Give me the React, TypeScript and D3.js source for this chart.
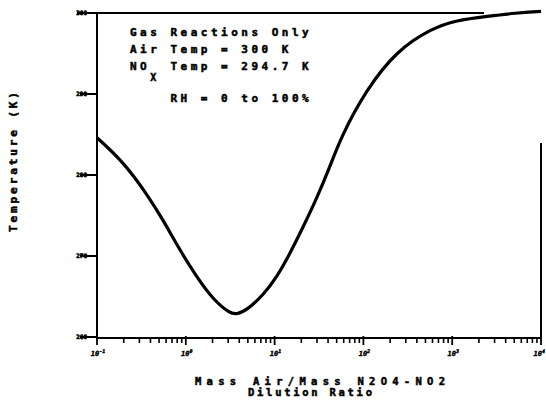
import React from "react";
import * as d3 from "d3";

// dilution ratio (mass air / mass N2O4-NO2) vs mixture temperature
const dilution = [0.1, 0.191, 0.363, 0.558, 0.861, 1.327, 2.04, 3.15, 3.74, 4.85, 7.47, 10.6, 14.9, 21.0, 29.8, 41.9, 56, 107, 239, 590, 1100, 2520, 5220, 10000];
const temperature = [284.6, 281.8, 277.7, 274.4, 270.7, 267.4, 264.6, 262.9, 262.8, 263.3, 265.2, 267.4, 270.3, 273.6, 277.1, 281.0, 284.7, 290.5, 295.4, 298.1, 299.1, 299.6, 300.0, 300.2];

const yTicks = [260, 270, 280, 290, 300];
const xDecades = [-1, 0, 1, 2, 3, 4];

const notes = ["Gas Reactions Only", "Air Temp = 300 K"];

const W = 546;
const H = 403;
const mono = "'DejaVu Sans Mono', monospace";

function App() {
  const x = d3.scaleLog().domain([0.1, 1e4]).range([97, 541]);
  const y = d3.scaleLinear().domain([260, 300]).range([337, 13]);

  const pts: [number, number][] = dilution.map((d, i) => [d, temperature[i]]);
  const line = d3
    .line<[number, number]>()
    .x((d) => x(d[0]))
    .y((d) => y(d[1]))
    .curve(d3.curveBasis);

  // minor ticks 2..9 in every decade
  const minor: number[] = [];
  xDecades.slice(0, -1).forEach((e) => {
    for (let k = 2; k <= 9; k++) minor.push(k * Math.pow(10, e));
  });

  const x0 = x.range()[0];
  const x1 = x.range()[1];
  const yb = y.range()[0] + 1;
  const col = 10.12; // monospace column width of the annotation

  return (
    <svg
      width={W}
      height={H}
      style={{ position: "absolute", left: 0, top: 0, background: "#fff" }}
    >
      {/* frame */}
      <line x1={x0} y1={yb} x2={x0} y2={y(300)} stroke="#000" strokeWidth={2} />
      <line x1={x0} y1={yb} x2={x1} y2={yb} stroke="#000" strokeWidth={2} />
      <line x1={77} y1={y(300)} x2={484} y2={y(300)} stroke="#000" strokeWidth={2} />
      <line x1={x1} y1={143} x2={x1} y2={yb} stroke="#000" strokeWidth={2} />

      {/* y ticks */}
      {yTicks.map((t) => (
        <g key={t}>
          <line x1={80} y1={y(t)} x2={x0} y2={y(t)} stroke="#000" strokeWidth={2} />
          <text
            x={87}
            y={y(t) + 2}
            textAnchor="end"
            fontFamily={mono}
            fontWeight="bold"
            fontSize={6}
            stroke="#000"
            strokeWidth={0.6}
          >
            {t}
          </text>
        </g>
      ))}

      {/* x ticks */}
      {minor.map((m, i) => (
        <line key={i} x1={x(m)} y1={yb} x2={x(m)} y2={yb + 5} stroke="#000" strokeWidth={1.6} />
      ))}
      {xDecades.map((e, i) => (
        <g key={e}>
          <line
            x1={x(Math.pow(10, e))}
            y1={yb - 2}
            x2={x(Math.pow(10, e))}
            y2={yb + 7}
            stroke="#000"
            strokeWidth={1.8}
          />
          <text
            x={i === xDecades.length - 1 ? 545 : x(Math.pow(10, e)) + 1}
            y={356}
            textAnchor={i === xDecades.length - 1 ? "end" : "middle"}
            fontFamily={mono}
            fontWeight="bold"
            fontSize={7}
            fontStyle="italic"
            stroke="#000"
            strokeWidth={0.4}
          >
            10
            <tspan dy={-3} fontSize={5}>
              {e}
            </tspan>
          </text>
        </g>
      ))}

      {/* curve */}
      <path d={line(pts) || ""} fill="none" stroke="#000" strokeWidth={3.2} strokeLinejoin="round" />

      {/* annotation */}
      <g
        fontFamily={mono}
        fontWeight="bold"
        fontSize={11}
        letterSpacing={3.5}
        stroke="#000"
        strokeWidth={0.5}
      >
        {notes.map((n, i) => (
          <text key={n} x={130} y={36 + i * 17}>
            {n}
          </text>
        ))}
        <text x={130} y={70}>NO</text>
        <text x={130 + 2 * col} y={81} fontSize={10}>X</text>
        <text x={130 + 4 * col} y={70}>Temp = 294.7 K</text>
        <text x={130 + 4 * col} y={102}>RH = 0 to 100%</text>
      </g>

      {/* axis titles */}
      <g fontFamily={mono} fontWeight="bold" fontSize={10.5} stroke="#000" strokeWidth={0.5}>
        <text x={195} y={385} textLength={250} lengthAdjust="spacing">
          Mass Air/Mass N2O4-NO2
        </text>
        <text x={248} y={396} textLength={124} lengthAdjust="spacing">
          Dilution Ratio
        </text>
        <text
          transform="translate(17,162) rotate(-90)"
          textAnchor="middle"
          fontSize={11}
          textLength={140}
          lengthAdjust="spacing"
        >
          Temperature (K)
        </text>
      </g>
    </svg>
  );
}

export default App;
